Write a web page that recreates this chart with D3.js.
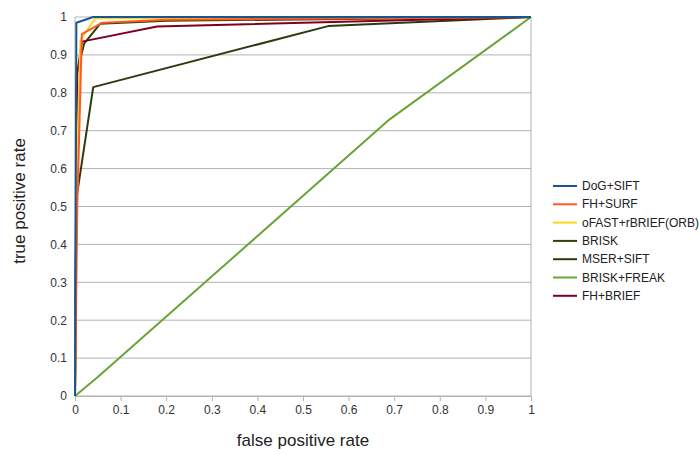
<!DOCTYPE html>
<html>
<head>
<meta charset="utf-8">
<script src="https://cdn.jsdelivr.net/npm/d3@7"></script>
<style>
  body { margin: 0; background: #fff; }
  svg { font-family: "Liberation Sans", Arial, sans-serif; }
</style>
</head>
<body>
<svg id="chart" width="699" height="454"></svg>
<script>
// ==========================
// DATA
// ==========================
const seriesNames = ["DoG+SIFT", "FH+SURF", "oFAST+rBRIEF(ORB)", "BRISK", "MSER+SIFT", "BRISK+FREAK", "FH+BRIEF"];
const seriesColors = ["#1a5590", "#ff5a24", "#ffd320", "#314004", "#2b3a10", "#6aa33a", "#7e0021"];

// [false positive rate, true positive rate]
const dogSift = [[0, 0], [0.003, 0.985], [0.04, 1], [1, 1]];
const fhSurf = [[0, 0], [0.005, 0.5], [0.015, 0.955], [0.06, 0.985], [0.2, 0.993], [1, 1]];
const orb = [[0, 0], [0.004, 0.6], [0.012, 0.94], [0.045, 0.997], [1, 1]];
const brisk = [[0, 0], [0.004, 0.85], [0.02, 0.93], [0.055, 0.982], [0.2, 0.99], [1, 1]];
const mserSift = [[0, 0], [0.003, 0.52], [0.04, 0.815], [0.555, 0.976], [1, 1]];
const briskFreak = [[0, 0], [0.05, 0.05], [0.69, 0.73], [1, 1]];
const fhBrief = [[0, 0], [0.005, 0.85], [0.015, 0.935], [0.18, 0.975], [1, 1]];

const seriesData = [dogSift, fhSurf, orb, brisk, mserSift, briskFreak, fhBrief];
// draw order: back to front
const drawOrder = [5, 4, 3, 6, 2, 1, 0];

const xTicks = d3.range(0, 11).map(i => i / 10);
const yTicks = d3.range(0, 11).map(i => i / 10);

// ==========================
// SETUP
// ==========================
const svg = d3.select("#chart");
const margin = { left: 75, right: 168, top: 17, bottom: 58 };
const width = 699, height = 454;

const x = d3.scaleLinear().domain([0, 1]).range([margin.left, width - margin.right]);
const y = d3.scaleLinear().domain([0, 1]).range([height - margin.bottom, margin.top]);

const fmt = d => d === 0 ? "0" : d === 1 ? "1" : d3.format(".1f")(d);

// Grid lines
svg.append("g")
    .selectAll("line")
    .data(yTicks)
    .enter()
    .append("line")
    .attr("x1", x(0)).attr("x2", x(1))
    .attr("y1", d => y(d)).attr("y2", d => y(d))
    .attr("stroke", "#b3b3b3")
    .attr("stroke-width", 1);

// Left and right borders
[0, 1].forEach(v => {
    svg.append("line")
        .attr("x1", x(v)).attr("x2", x(v))
        .attr("y1", y(0)).attr("y2", y(1))
        .attr("stroke", "#b3b3b3")
        .attr("stroke-width", 1);
});

// X axis
const xAxis = svg.append("g")
    .attr("transform", `translate(0,${y(0)})`)
    .call(d3.axisBottom(x).tickValues(xTicks).tickFormat(fmt).tickSize(5).tickPadding(4));
xAxis.select(".domain").attr("stroke", "#b3b3b3");
xAxis.selectAll(".tick line").attr("stroke", "#b3b3b3");
xAxis.selectAll("text").attr("font-size", 12).attr("fill", "#333").attr("font-family", "Liberation Sans, Arial, sans-serif");

// Y axis
const yAxis = svg.append("g")
    .attr("transform", `translate(${x(0)},0)`)
    .call(d3.axisLeft(y).tickValues(yTicks).tickFormat(fmt).tickSize(0).tickPadding(8));
yAxis.select(".domain").remove();
yAxis.selectAll("text").attr("font-size", 12).attr("fill", "#333").attr("font-family", "Liberation Sans, Arial, sans-serif");

// Lines
const line = d3.line().x(d => x(d[0])).y(d => y(d[1]));
drawOrder.forEach(i => {
    svg.append("path")
        .datum(seriesData[i])
        .attr("d", line)
        .attr("fill", "none")
        .attr("stroke", seriesColors[i])
        .attr("stroke-width", 2)
        .attr("stroke-linejoin", "round");
});

// Axis titles
svg.append("text")
    .attr("x", (x(0) + x(1)) / 2)
    .attr("y", 446)
    .attr("text-anchor", "middle")
    .attr("font-size", 17)
    .attr("fill", "#222")
    .text("false positive rate");

svg.append("text")
    .attr("transform", `translate(25,201) rotate(-90)`)
    .attr("text-anchor", "middle")
    .attr("font-size", 17)
    .attr("fill", "#222")
    .text("true positive rate");

// Legend
const legend = svg.append("g").attr("transform", "translate(553,186)");
seriesNames.forEach((name, i) => {
    const row = legend.append("g").attr("transform", `translate(0,${i * 18.3})`);
    row.append("line")
        .attr("x1", 0).attr("x2", 24)
        .attr("y1", 0).attr("y2", 0)
        .attr("stroke", seriesColors[i])
        .attr("stroke-width", 2);
    row.append("text")
        .attr("x", 29)
        .attr("y", 4)
        .attr("font-size", 12)
        .attr("fill", "#222")
        .text(name);
});
</script>
</body>
</html>
